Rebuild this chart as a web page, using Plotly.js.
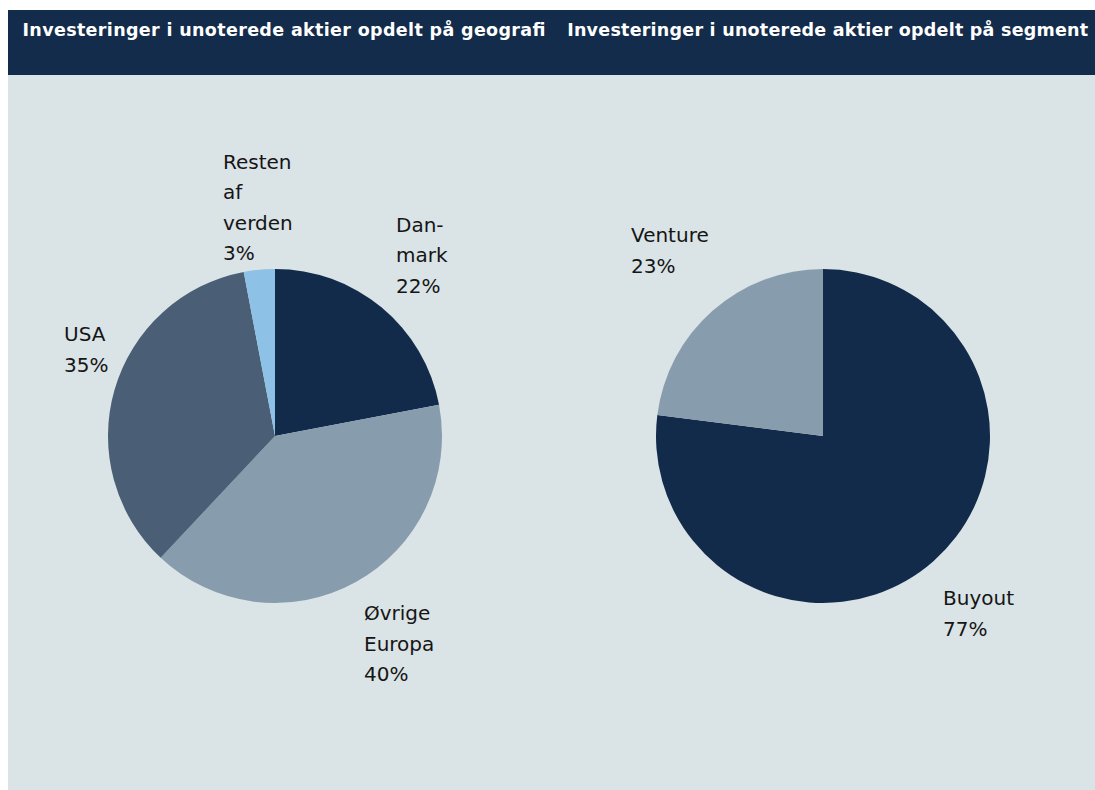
<!DOCTYPE html>
<html>
<head>
<meta charset="utf-8">
<script src="https://cdn.plot.ly/plotly-3.0.1.min.js"></script>
<style>
  html, body { margin: 0; padding: 0; background: #ffffff; }
  #chart { width: 1095px; height: 790px; }
</style>
</head>
<body>
<div id="chart"></div>
<script>
// Unlisted equity investments, split by geography and by segment
const geoTitle = 'Investeringer i unoterede aktier opdelt på geografi';
const segTitle = 'Investeringer i unoterede aktier opdelt på segment';

const geoLabels = ['Danmark', 'Øvrige Europa', 'USA', 'Resten af verden'];
const geoLabelLines = [['Dan-', 'mark'], ['Øvrige', 'Europa'], ['USA'], ['Resten', 'af', 'verden']];
const geoValues = [22, 40, 35, 3];
const geoColors = ['#132B4B', '#879CAD', '#4A5F76', '#8DC1E5'];

const segLabels = ['Buyout', 'Venture'];
const segLabelLines = [['Buyout'], ['Venture']];
const segValues = [77, 23];
const segColors = ['#132B4B', '#879CAD'];

const W = 1095, H = 790;
const px = x => x / W;
const py = y => 1 - y / H;

const navy = '#132C4C';
const panel = '#DAE3E6';
const labelFont = { family: '"DejaVu Sans", sans-serif', size: 20, color: '#151515' };
const titleFont = { family: '"DejaVu Sans", sans-serif', size: 17.5, color: '#ffffff', weight: 700 };

function pieTrace(labels, values, colors, xd, yd) {
  return {
    type: 'pie',
    labels: labels,
    values: values,
    sort: false,
    direction: 'clockwise',
    rotation: 0,
    textinfo: 'none',
    hoverinfo: 'label+percent',
    marker: { colors: colors, line: { width: 0 } },
    domain: { x: xd, y: yd },
    showlegend: false
  };
}

const pieY = [py(603), py(269)];
const data = [
  pieTrace(geoLabels, geoValues, geoColors, [px(108), px(442)], pieY),
  pieTrace(segLabels, segValues, segColors, [px(656), px(990)], pieY)
];

// Label block anchors: left edge and centre of first line (pixels)
const geoLabelPos = [[394, 225], [362, 613], [62, 334], [221, 162]];
const segLabelPos = [[941, 598], [629, 235]];
const lineStep = 30.5;

const annotations = [];
function addLabels(lines, values, pos) {
  lines.forEach((ls, i) => {
    const all = ls.concat([values[i] + '%']);
    all.forEach((t, k) => {
      annotations.push({
        text: t, showarrow: false,
        xref: 'paper', yref: 'paper',
        x: px(pos[i][0]), y: py(pos[i][1] + k * lineStep),
        xanchor: 'left', yanchor: 'middle',
        font: labelFont
      });
    });
  });
}
addLabels(geoLabelLines, geoValues, geoLabelPos);
addLabels(segLabelLines, segValues, segLabelPos);

// Panel headings: left edge and width in pixels (centred, then fitted to width)
const headings = [[geoTitle, 22, 523], [segTitle, 567, 521]];
headings.forEach(([t, x, w]) => {
  annotations.push({
    text: t, showarrow: false, xref: 'paper', yref: 'paper',
    x: px(x + w / 2), y: py(30), xanchor: 'center', yanchor: 'middle', font: titleFont
  });
});

const shapes = [
  { type: 'rect', xref: 'paper', yref: 'paper', x0: 0, x1: 1, y0: py(10), y1: 1,
    fillcolor: '#ffffff', line: { width: 0 }, layer: 'below' },
  { type: 'rect', xref: 'paper', yref: 'paper', x0: 0, x1: px(8), y0: 0, y1: 1,
    fillcolor: '#ffffff', line: { width: 0 }, layer: 'below' },
  { type: 'rect', xref: 'paper', yref: 'paper', x0: px(8), x1: 1, y0: py(75), y1: py(10),
    fillcolor: navy, line: { width: 0 }, layer: 'below' }
];

const layout = {
  width: W, height: H,
  margin: { l: 0, r: 0, t: 0, b: 0 },
  paper_bgcolor: panel,
  plot_bgcolor: panel,
  shapes: shapes,
  annotations: annotations
};

Plotly.newPlot('chart', data, layout, { displayModeBar: false, staticPlot: true }).then(() => {
  // Fit each heading exactly to its span in the header band
  document.querySelectorAll('.annotation-text').forEach(el => {
    const h = headings.find(d => d[0] === el.textContent);
    if (h) {
      el.setAttribute('textLength', h[2]);
      el.setAttribute('lengthAdjust', 'spacing');
    }
  });
});
</script>
</body>
</html>
